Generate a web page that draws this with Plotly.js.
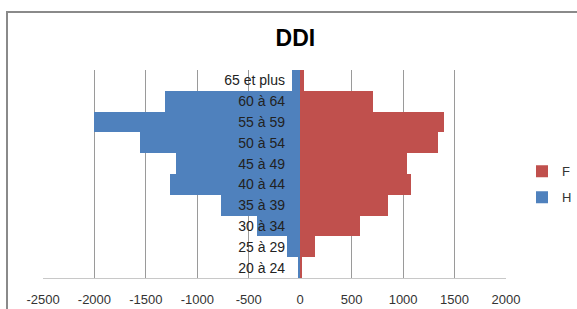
<!DOCTYPE html>
<html>
<head>
<meta charset="utf-8">
<script src="https://cdn.plot.ly/plotly-3.0.1.min.js"></script>
<style>html,body{margin:0;padding:0;background:#fff;}#chart{width:577px;height:309px;}</style>
</head>
<body>
<div id="chart"></div>
<script>
const ageGroups = ["20 à 24", "25 à 29", "30 à 34", "35 à 39", "40 à 44", "45 à 49", "50 à 54", "55 à 59", "60 à 64", "65 et plus"];
const hommes = [-22, -129, -418, -770, -1269, -1204, -1553, -2005, -1318, -81];
const femmes = [19, 146, 577, 856, 1081, 1042, 1337, 1398, 712, 33];
const xTicks = [-2500, -2000, -1500, -1000, -500, 0, 500, 1000, 1500, 2000];

const traces = [
  {type: 'bar', orientation: 'h', name: 'H', y: ageGroups, x: hommes,
   marker: {color: '#4F81BD'}, legendgroup: 'H', legendrank: 2, hoverinfo: 'x+y'},
  {type: 'bar', orientation: 'h', name: 'F', y: ageGroups, x: femmes,
   marker: {color: '#C0504D'}, legendgroup: 'F', legendrank: 1, hoverinfo: 'x+y'}
];

const layout = {
  width: 577, height: 309,
  margin: {l: 43, r: 71, t: 70, b: 31, pad: 0, autoexpand: false},
  paper_bgcolor: '#fff', plot_bgcolor: '#fff',
  barmode: 'relative', bargap: 0,
  font: {family: 'Liberation Sans, Arial, sans-serif', color: '#222'},
  title: {text: '<b>DDI</b>', x: 0.512, xref: 'container', xanchor: 'center',
          y: 1 - 38/309, yref: 'container', yanchor: 'middle',
          font: {size: 23, color: '#000'}},
  xaxis: {range: [-2500, 2000], tickvals: xTicks, ticktext: xTicks.map(String),
          showgrid: true, gridcolor: '#9a9a9a', gridwidth: 1,
          zeroline: false, showline: true, linecolor: '#c8c8c8', linewidth: 1,
          ticks: '', ticklabelstandoff: 9, automargin: false,
          tickfont: {size: 13, color: '#333'}, fixedrange: true},
  yaxis: {type: 'category', categoryorder: 'array', categoryarray: ageGroups,
          anchor: 'free', position: 257/463, side: 'left', automargin: false,
          showgrid: false, zeroline: false, showline: false, ticks: '',
          ticklabelstandoff: 15, layer: 'above traces',
          tickfont: {size: 14, color: '#222'}, fixedrange: true},
  legend: {x: (522-43)/463, xanchor: 'left', y: 0.45, yanchor: 'middle',
           traceorder: 'grouped', tracegroupgap: 6,
           font: {size: 13, color: '#333'}, bgcolor: 'rgba(0,0,0,0)'},
  shapes: [
    {type: 'rect', xref: 'paper', yref: 'paper',
     x0: -36/463, x1: 1.3, y0: -0.3, y1: 1 + 58/208,
     line: {color: '#8a8a8a', width: 2}, fillcolor: 'rgba(0,0,0,0)', layer: 'below'}
  ],
  showlegend: true
};

Plotly.newPlot('chart', traces, layout, {displayModeBar: false, staticPlot: true});
</script>
</body>
</html>
